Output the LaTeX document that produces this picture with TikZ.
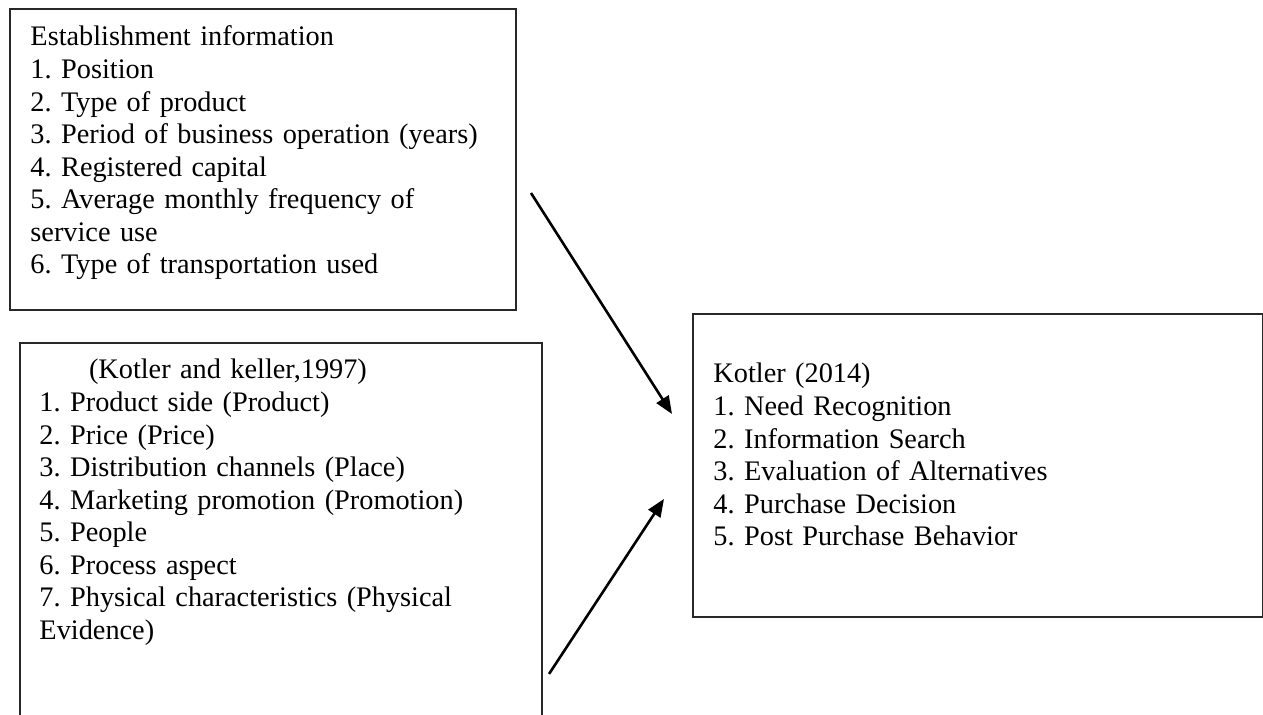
\documentclass[tikz,border=0pt]{standalone}
\usepackage{fontspec}
\setmainfont{Liberation Serif}
\usepackage{tikz}
\usetikzlibrary{arrows.meta, positioning, fit}
\usepackage{xcolor}
\definecolor{framegray}{RGB}{40,40,40}
\newcommand{\boxfont}{\fontsize{12}{13.8}\selectfont\fontdimen2\font=2.3pt\relax}

\begin{document}
\frenchspacing
\begin{tikzpicture}[
  x=0.424pt, y=-0.424pt,
  framebox/.style={draw=framegray, line width=0.5pt, inner sep=0pt},
  boxtext/.style={font=\boxfont, text width=215pt, align=left, inner sep=0pt, anchor=base west},
  flowarrow/.style={-{Triangle[length=7.5pt, width=6pt]}, line width=1.1pt, black},
]
\clip (0,0) rectangle (1263,715);
\fill[white] (0,0) rectangle (1263,715);

% Frames
\node[framebox, fit={(10,9) (516,310)}] (estab) {};
\node[framebox, fit={(20,343) (542,740)}] (mix) {};
\node[framebox, fit={(693,314) (1262.5,617)}] (decision) {};

% Box texts
\node[boxtext] (estabtext) at (30,46) {Establishment information\\
1. Position\\
2. Type of product\\
3. Period of business operation (years)\\
4. Registered capital\\
5. Average monthly frequency of\\
service use\\
6. Type of transportation used};

\node[boxtext] (mixtext) at (39,379) {\hspace*{21pt}(Kotler and keller,1997)\\
1. Product side (Product)\\
2. Price (Price)\\
3. Distribution channels (Place)\\
4. Marketing promotion (Promotion)\\
5. People\\
6. Process aspect\\
7. Physical characteristics (Physical\\
Evidence)};

\node[boxtext] (decisiontext) at (713,383) {Kotler (2014)\\
1. Need Recognition\\
2. Information Search\\
3. Evaluation of Alternatives\\
4. Purchase Decision\\
5. Post Purchase Behavior};

% Arrows
\coordinate (estabout) at (531,193);
\coordinate (decisionin1) at (672,414);
\coordinate (mixout) at (549,674);
\coordinate (decisionin2) at (664,499);
\draw[flowarrow] (estabout) -- (decisionin1);
\draw[flowarrow] (mixout) -- (decisionin2);
\end{tikzpicture}
\end{document}
